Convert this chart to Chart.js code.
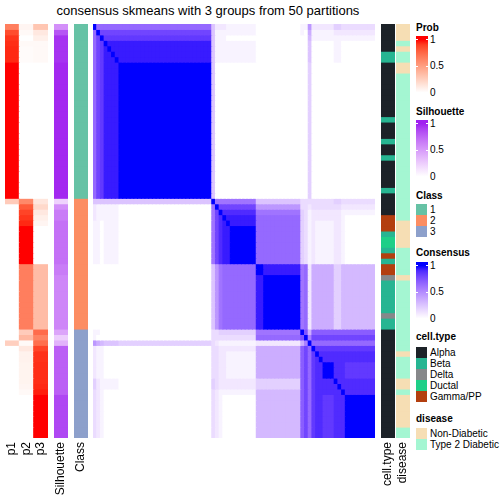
<!DOCTYPE html>
<html>
<head>
<meta charset="utf-8">
<title>consensus skmeans</title>
<script src="https://cdn.jsdelivr.net/npm/chart.js@4.4.1/dist/chart.umd.min.js"></script>
<style>
  html, body { margin: 0; padding: 0; background: #fff; }
  body { position: relative; width: 504px; height: 504px; overflow: hidden;
         font-family: "Liberation Sans", Arial, sans-serif; color: #000; }
  .abs { position: absolute; }
  #title { left: 0; width: 416px; top: 3px; text-align: center; font-size: 13px; line-height: 15px; }
  .lgTitle { font-size: 10px; font-weight: bold; line-height: 12px; white-space: nowrap; }
  .lgText { font-size: 10px; line-height: 12px; white-space: nowrap; }
  canvas { display: block; }
</style>
</head>
<body>
<div id="title" class="abs">consensus skmeans with 3 groups from 50 partitions</div>
<div class="abs" style="left:5px;top:24px"><canvas id="probChart" width="43" height="476"></canvas></div>
<div class="abs" style="left:54px;top:24px"><canvas id="silChart" width="14" height="476"></canvas></div>
<div class="abs" style="left:74px;top:24px"><canvas id="classChart" width="14" height="476"></canvas></div>
<div class="abs" style="left:93px;top:24px"><canvas id="heatChart" width="282" height="414"></canvas></div>
<div class="abs" style="left:381px;top:24px"><canvas id="cellChart" width="14" height="476"></canvas></div>
<div class="abs" style="left:396px;top:24px"><canvas id="diseaseChart" width="14" height="476"></canvas></div>

<script>
// ---- data (76 samples, in plotted order) ----
const p1 = [
  0.65, 0.85, 0.92, 0.94, 0.95, 0.95, 0.95,
  1, 1, 1, 1, 1, 1, 1, 1, 1, 1, 1, 1, 1, 1, 1, 1, 1, 1, 1, 1, 1, 1, 1, 1, 1,
  0.27, 0, 0, 0, 0, 0, 0, 0, 0, 0, 0, 0,
  0, 0, 0, 0, 0, 0, 0, 0, 0, 0, 0, 0,
  0, 0, 0.25, 0, 0, 0, 0, 0, 0, 0, 0, 0, 0, 0, 0, 0, 0, 0, 0, 0
]
const p2 = [
  0.05, 0.03, 0, 0.03, 0.02, 0.02, 0.02,
  0, 0, 0, 0, 0, 0, 0, 0, 0, 0, 0, 0, 0, 0, 0, 0, 0, 0, 0, 0, 0, 0, 0, 0, 0,
  0.6, 0.8, 0.88, 0.92, 0.95, 1, 1, 1, 1, 1, 1, 1,
  0.65, 0.65, 0.65, 0.65, 0.65, 0.65, 0.65, 0.65, 0.65, 0.65, 0.65, 0.65,
  0.27, 0.37, 0.03, 0.12, 0.07, 0.07, 0.06, 0.06, 0.06, 0.06, 0.05, 0.03, 0, 0, 0, 0, 0, 0, 0, 0
]
const p3 = [
  0.3, 0.12, 0.08, 0.03, 0.03, 0.03, 0.03,
  0, 0, 0, 0, 0, 0, 0, 0, 0, 0, 0, 0, 0, 0, 0, 0, 0, 0, 0, 0, 0, 0, 0, 0, 0,
  0.13, 0.2, 0.12, 0.08, 0.05, 0, 0, 0, 0, 0, 0, 0,
  0.35, 0.35, 0.35, 0.35, 0.35, 0.35, 0.35, 0.35, 0.35, 0.35, 0.35, 0.35,
  0.73, 0.63, 0.72, 0.88, 0.93, 0.93, 0.94, 0.94, 0.94, 0.94, 0.95, 0.97, 1, 1, 1, 1, 1, 1, 1, 1
]
const silhouette = [
  0.55, 0.82, 0.95, 0.95, 0.95, 0.95, 0.95,
  0.98, 0.98, 0.98, 0.98, 0.98, 0.98, 0.98, 0.98, 0.98, 0.98, 0.98, 0.98, 0.98,
  0.98, 0.98, 0.98, 0.98, 0.98, 0.98, 0.98, 0.98, 0.98, 0.98, 0.98, 0.98,
  0.22, 0.55, 0.65, 0.65, 0.7, 0.7, 0.7, 0.7, 0.7, 0.7, 0.7, 0.7,
  0.65, 0.65, 0.6, 0.6, 0.6, 0.6, 0.6, 0.6, 0.6, 0.6, 0.6, 0.6,
  0.45, 0.25, 0.38, 0.78, 0.78, 0.78, 0.78, 0.78, 0.78, 0.78, 0.78, 0.78,
  0.88, 0.88, 0.88, 0.88, 0.88, 0.88, 0.88, 0.88
]
const classes = [
  1, 1, 1, 1, 1, 1, 1, 1, 1, 1, 1, 1, 1, 1, 1, 1, 1, 1, 1, 1, 1, 1, 1, 1, 1, 1, 1, 1, 1, 1, 1, 1,
  2, 2, 2, 2, 2, 2, 2, 2, 2, 2, 2, 2, 2, 2, 2, 2, 2, 2, 2, 2, 2, 2, 2, 2,
  3, 3, 3, 3, 3, 3, 3, 3, 3, 3, 3, 3, 3, 3, 3, 3, 3, 3, 3, 3
]
// A Alpha, B Beta, D Delta, U Ductal, G Gamma/PP
const cellTypeCodes = 'AAAAA BB AAAAAAAAAA B AAA B AA B AAAAA B AAAA GGG B UU B G B GG D BBBBBB D BB AAAAAAAAAA AAAAAAAAAA'
// N Non-Diabetic, T Type 2 Diabetic
const diseaseCodes = 'NNN T N TT NN TTTTT TTTTT TTTTT TTTTT TTTTT TT NNNNN TTTTT N TTTTT TTTTT TTT N TTTT NN T NNNNNN TT'

// consensus matrix, one string per row, value = index in levels / 20
const levels = '0123456789abcdefghijk'
const consensus = [
  'k d d dddd ddddd ddddd ddddd ddddd ddddd 5 2 2 2 1 1111111 00 00000 00000 1 1 9 2 22 222 44 3 3333 3333',
  'd k g gggg ggggg ggggg ggggg ggggg ggggg 5 1 1 1 1 1111111 00 00000 00000 1 0 7 1 11 111 22 2 2222 2222',
  'd g k hhhh hhhhh hhhhh hhhhh hhhhh hhhhh 5 1 1 1 0 0000000 00 00000 00000 0 0 6 1 11 111 11 1 1111 1111',
  'd g h kjjj jjjjj jjjjj jjjjj jjjjj jjjjj 5 1 1 1 1 1111111 00 00000 00000 0 0 5 0 00 000 11 0 0000 0000',
  'd g h jkjj jjjjj jjjjj jjjjj jjjjj jjjjj 5 1 1 1 1 1111111 00 00000 00000 0 0 5 0 00 000 11 0 0000 0000',
  'd g h jjkj jjjjj jjjjj jjjjj jjjjj jjjjj 5 1 1 1 1 1111111 00 00000 00000 0 0 5 0 00 000 11 0 0000 0000',
  'd g h jjjk jjjjj jjjjj jjjjj jjjjj jjjjj 5 1 1 1 1 1111111 00 00000 00000 0 0 5 0 00 000 11 0 0000 0000',
  'd g h jjjj kkkkk kkkkk kkkkk kkkkk kkkkk 5 0 0 0 0 0000000 00 00000 00000 0 0 4 0 00 000 00 0 0000 0000',
  'd g h jjjj kkkkk kkkkk kkkkk kkkkk kkkkk 5 0 0 0 0 0000000 00 00000 00000 0 0 4 0 00 000 00 0 0000 0000',
  'd g h jjjj kkkkk kkkkk kkkkk kkkkk kkkkk 5 0 0 0 0 0000000 00 00000 00000 0 0 4 0 00 000 00 0 0000 0000',
  'd g h jjjj kkkkk kkkkk kkkkk kkkkk kkkkk 5 0 0 0 0 0000000 00 00000 00000 0 0 4 0 00 000 00 0 0000 0000',
  'd g h jjjj kkkkk kkkkk kkkkk kkkkk kkkkk 5 0 0 0 0 0000000 00 00000 00000 0 0 4 0 00 000 00 0 0000 0000',
  'd g h jjjj kkkkk kkkkk kkkkk kkkkk kkkkk 5 0 0 0 0 0000000 00 00000 00000 0 0 4 0 00 000 00 0 0000 0000',
  'd g h jjjj kkkkk kkkkk kkkkk kkkkk kkkkk 5 0 0 0 0 0000000 00 00000 00000 0 0 4 0 00 000 00 0 0000 0000',
  'd g h jjjj kkkkk kkkkk kkkkk kkkkk kkkkk 5 0 0 0 0 0000000 00 00000 00000 0 0 4 0 00 000 00 0 0000 0000',
  'd g h jjjj kkkkk kkkkk kkkkk kkkkk kkkkk 5 0 0 0 0 0000000 00 00000 00000 0 0 4 0 00 000 00 0 0000 0000',
  'd g h jjjj kkkkk kkkkk kkkkk kkkkk kkkkk 5 0 0 0 0 0000000 00 00000 00000 0 0 4 0 00 000 00 0 0000 0000',
  'd g h jjjj kkkkk kkkkk kkkkk kkkkk kkkkk 5 0 0 0 0 0000000 00 00000 00000 0 0 4 0 00 000 00 0 0000 0000',
  'd g h jjjj kkkkk kkkkk kkkkk kkkkk kkkkk 5 0 0 0 0 0000000 00 00000 00000 0 0 4 0 00 000 00 0 0000 0000',
  'd g h jjjj kkkkk kkkkk kkkkk kkkkk kkkkk 5 0 0 0 0 0000000 00 00000 00000 0 0 4 0 00 000 00 0 0000 0000',
  'd g h jjjj kkkkk kkkkk kkkkk kkkkk kkkkk 5 0 0 0 0 0000000 00 00000 00000 0 0 4 0 00 000 00 0 0000 0000',
  'd g h jjjj kkkkk kkkkk kkkkk kkkkk kkkkk 5 0 0 0 0 0000000 00 00000 00000 0 0 4 0 00 000 00 0 0000 0000',
  'd g h jjjj kkkkk kkkkk kkkkk kkkkk kkkkk 5 0 0 0 0 0000000 00 00000 00000 0 0 4 0 00 000 00 0 0000 0000',
  'd g h jjjj kkkkk kkkkk kkkkk kkkkk kkkkk 5 0 0 0 0 0000000 00 00000 00000 0 0 4 0 00 000 00 0 0000 0000',
  'd g h jjjj kkkkk kkkkk kkkkk kkkkk kkkkk 5 0 0 0 0 0000000 00 00000 00000 0 0 4 0 00 000 00 0 0000 0000',
  'd g h jjjj kkkkk kkkkk kkkkk kkkkk kkkkk 5 0 0 0 0 0000000 00 00000 00000 0 0 4 0 00 000 00 0 0000 0000',
  'd g h jjjj kkkkk kkkkk kkkkk kkkkk kkkkk 5 0 0 0 0 0000000 00 00000 00000 0 0 4 0 00 000 00 0 0000 0000',
  'd g h jjjj kkkkk kkkkk kkkkk kkkkk kkkkk 5 0 0 0 0 0000000 00 00000 00000 0 0 4 0 00 000 00 0 0000 0000',
  'd g h jjjj kkkkk kkkkk kkkkk kkkkk kkkkk 5 0 0 0 0 0000000 00 00000 00000 0 0 4 0 00 000 00 0 0000 0000',
  'd g h jjjj kkkkk kkkkk kkkkk kkkkk kkkkk 5 0 0 0 0 0000000 00 00000 00000 0 0 4 0 00 000 00 0 0000 0000',
  'd g h jjjj kkkkk kkkkk kkkkk kkkkk kkkkk 5 0 0 0 0 0000000 00 00000 00000 0 0 4 0 00 000 00 0 0000 0000',
  'd g h jjjj kkkkk kkkkk kkkkk kkkkk kkkkk 5 0 0 0 0 0000000 00 00000 00000 0 0 4 0 00 000 00 0 0000 0000',
  '5 5 5 5555 55555 55555 55555 55555 55555 k c c c c ccccccc 55 55555 55555 3 3 3 3 33 333 44 3 3333 3333',
  '2 1 1 1111 00000 00000 00000 00000 00000 c k g g g ggggggg 99 99999 99999 3 3 2 3 33 333 33 2 2222 2222',
  '2 1 1 1111 00000 00000 00000 00000 00000 c g k i i iiiiiii cc ccccc ccccc 4 3 1 2 22 222 22 1 1111 1111',
  '2 1 1 1111 00000 00000 00000 00000 00000 c g i k j jjjjjjj dd ddddd ddddd 4 3 1 2 22 222 22 1 0000 0000',
  '1 1 0 1111 00000 00000 00000 00000 00000 c g i j k jjjjjjj dd ddddd ddddd 4 3 1 2 11 111 22 1 0000 0000',
  '1 1 0 1111 00000 00000 00000 00000 00000 c g i j j kkkkkkk dd ddddd ddddd 4 3 1 2 11 111 22 1 0000 0000',
  '1 1 0 1111 00000 00000 00000 00000 00000 c g i j j kkkkkkk dd ddddd ddddd 4 3 1 2 11 111 22 1 0000 0000',
  '1 1 0 1111 00000 00000 00000 00000 00000 c g i j j kkkkkkk dd ddddd ddddd 4 3 1 2 11 111 22 1 0000 0000',
  '1 1 0 1111 00000 00000 00000 00000 00000 c g i j j kkkkkkk dd ddddd ddddd 4 3 1 2 11 111 22 1 0000 0000',
  '1 1 0 1111 00000 00000 00000 00000 00000 c g i j j kkkkkkk dd ddddd ddddd 4 3 1 2 11 111 22 1 0000 0000',
  '1 1 0 1111 00000 00000 00000 00000 00000 c g i j j kkkkkkk dd ddddd ddddd 4 3 1 2 11 111 22 1 0000 0000',
  '1 1 0 1111 00000 00000 00000 00000 00000 c g i j j kkkkkkk dd ddddd ddddd 4 3 1 2 11 111 22 1 0000 0000',
  '0 0 0 0000 00000 00000 00000 00000 00000 5 9 c d d ddddddd kk jjjjj jjjjj c d 2 7 77 777 44 6 6666 6666',
  '0 0 0 0000 00000 00000 00000 00000 00000 5 9 c d d ddddddd kk jjjjj jjjjj c d 2 7 77 777 44 6 6666 6666',
  '0 0 0 0000 00000 00000 00000 00000 00000 5 9 c d d ddddddd jj kkkkk kkkkk c d 2 7 77 777 44 6 6666 6666',
  '0 0 0 0000 00000 00000 00000 00000 00000 5 9 c d d ddddddd jj kkkkk kkkkk c d 2 7 77 777 44 6 6666 6666',
  '0 0 0 0000 00000 00000 00000 00000 00000 5 9 c d d ddddddd jj kkkkk kkkkk c d 2 7 77 777 44 6 6666 6666',
  '0 0 0 0000 00000 00000 00000 00000 00000 5 9 c d d ddddddd jj kkkkk kkkkk c d 2 7 77 777 44 6 6666 6666',
  '0 0 0 0000 00000 00000 00000 00000 00000 5 9 c d d ddddddd jj kkkkk kkkkk c d 2 7 77 777 44 6 6666 6666',
  '0 0 0 0000 00000 00000 00000 00000 00000 5 9 c d d ddddddd jj kkkkk kkkkk c d 2 7 77 777 44 6 6666 6666',
  '0 0 0 0000 00000 00000 00000 00000 00000 5 9 c d d ddddddd jj kkkkk kkkkk c d 2 7 77 777 44 6 6666 6666',
  '0 0 0 0000 00000 00000 00000 00000 00000 5 9 c d d ddddddd jj kkkkk kkkkk c d 2 7 77 777 44 6 6666 6666',
  '0 0 0 0000 00000 00000 00000 00000 00000 5 9 c d d ddddddd jj kkkkk kkkkk c d 2 7 77 777 44 6 6666 6666',
  '0 0 0 0000 00000 00000 00000 00000 00000 5 9 c d d ddddddd jj kkkkk kkkkk c d 2 7 77 777 44 6 6666 6666',
  '1 1 0 0000 00000 00000 00000 00000 00000 3 3 4 4 4 4444444 cc ccccc ccccc k f 7 e ee eee ee e eeee eeee',
  '1 0 0 0000 00000 00000 00000 00000 00000 3 3 3 3 3 3333333 dd ddddd ddddd f k b g gg ggg gg g gggg gggg',
  '9 7 6 5555 44444 44444 44444 44444 44444 3 2 1 1 1 1111111 22 22222 22222 7 b k d dd ddd dd d dddd dddd',
  '2 1 1 0000 00000 00000 00000 00000 00000 3 3 2 2 2 2222222 77 77777 77777 e g d k hh hhh hh h hhhh hhhh',
  '2 1 1 0000 00000 00000 00000 00000 00000 3 3 2 2 1 1111111 77 77777 77777 e g d h ki iii ii i iiii iiii',
  '2 1 1 0000 00000 00000 00000 00000 00000 3 3 2 2 1 1111111 77 77777 77777 e g d h ik iii ii i iiii iiii',
  '2 1 1 0000 00000 00000 00000 00000 00000 3 3 2 2 1 1111111 77 77777 77777 e g d h ii kkk ii i hhhh hhhh',
  '2 1 1 0000 00000 00000 00000 00000 00000 3 3 2 2 1 1111111 77 77777 77777 e g d h ii kkk ii i hhhh hhhh',
  '2 1 1 0000 00000 00000 00000 00000 00000 3 3 2 2 1 1111111 77 77777 77777 e g d h ii kkk ii i hhhh hhhh',
  '4 2 1 1111 00000 00000 00000 00000 00000 4 3 2 2 2 2222222 44 44444 44444 e g d h ii iii ki i iiii iiii',
  '4 2 1 1111 00000 00000 00000 00000 00000 4 3 2 2 2 2222222 44 44444 44444 e g d h ii iii ik i iiii iiii',
  '3 2 1 0000 00000 00000 00000 00000 00000 3 2 1 1 1 1111111 66 66666 66666 e g d h ii iii ii k iiii iiii',
  '3 2 1 0000 00000 00000 00000 00000 00000 3 2 1 0 0 0000000 66 66666 66666 e g d h ii hhh ii i kkkk kkkk',
  '3 2 1 0000 00000 00000 00000 00000 00000 3 2 1 0 0 0000000 66 66666 66666 e g d h ii hhh ii i kkkk kkkk',
  '3 2 1 0000 00000 00000 00000 00000 00000 3 2 1 0 0 0000000 66 66666 66666 e g d h ii hhh ii i kkkk kkkk',
  '3 2 1 0000 00000 00000 00000 00000 00000 3 2 1 0 0 0000000 66 66666 66666 e g d h ii hhh ii i kkkk kkkk',
  '3 2 1 0000 00000 00000 00000 00000 00000 3 2 1 0 0 0000000 66 66666 66666 e g d h ii hhh ii i kkkk kkkk',
  '3 2 1 0000 00000 00000 00000 00000 00000 3 2 1 0 0 0000000 66 66666 66666 e g d h ii hhh ii i kkkk kkkk',
  '3 2 1 0000 00000 00000 00000 00000 00000 3 2 1 0 0 0000000 66 66666 66666 e g d h ii hhh ii i kkkk kkkk',
  '3 2 1 0000 00000 00000 00000 00000 00000 3 2 1 0 0 0000000 66 66666 66666 e g d h ii hhh ii i kkkk kkkk'
]

const classNames = ['1', '2', '3']
const classColors = ['#66C2A5', '#FC8D62', '#8DA0CB']
const cellTypeNames = ['Alpha', 'Beta', 'Delta', 'Ductal', 'Gamma/PP']
const cellTypeKeys = ['A', 'B', 'D', 'U', 'G']
const cellTypeColors = ['#1C2228', '#27B592', '#86888A', '#1ECF88', '#B33F0F']
const diseaseNames = ['Non-Diabetic', 'Type 2 Diabetic']
const diseaseKeys = ['N', 'T']
const diseaseColors = ['#F6DEB4', '#A4F6D2']

// ---- colour ramps: white -> colour, interpolated in Lab like colorRamp2 ----
const toLin = c => { c /= 255; return c <= 0.04045 ? c / 12.92 : Math.pow((c + 0.055) / 1.055, 2.4) }
const fromLin = c => {
  c = c <= 0.0031308 ? 12.92 * c : 1.055 * Math.pow(Math.max(c, 0), 1 / 2.4) - 0.055
  return Math.round(Math.min(1, Math.max(0, c)) * 255)
}
const hexRgb = h => [1, 3, 5].map(k => parseInt(h.slice(k, k + 2), 16))
function rgbToLab(rgb) {
  const [r, g, b] = rgb.map(toLin)
  const f = t => t > 0.008856 ? Math.cbrt(t) : 7.787 * t + 16 / 116
  const x = f((0.4124 * r + 0.3576 * g + 0.1805 * b) / 0.95047)
  const y = f(0.2126 * r + 0.7152 * g + 0.0722 * b)
  const z = f((0.0193 * r + 0.1192 * g + 0.9505 * b) / 1.08883)
  return [116 * y - 16, 500 * (x - y), 200 * (y - z)]
}
function labToRgb([L, a, bb]) {
  const fy = (L + 16) / 116, fx = fy + a / 500, fz = fy - bb / 200
  const fi = t => t * t * t > 0.008856 ? t * t * t : (t - 16 / 116) / 7.787
  const x = fi(fx) * 0.95047, y = fi(fy), z = fi(fz) * 1.08883
  const r = 3.2406 * x - 1.5372 * y - 0.4986 * z
  const g = -0.9689 * x + 1.8758 * y + 0.0415 * z
  const b = 0.0557 * x - 0.2040 * y + 1.0570 * z
  return `rgb(${fromLin(r)},${fromLin(g)},${fromLin(b)})`
}
function makeRamp(hex) {
  const lo = rgbToLab([255, 255, 255]), hi = rgbToLab(hexRgb(hex))
  return v => {
    v = Math.min(1, Math.max(0, v))
    return labToRgb(lo.map((l, i) => l + (hi[i] - l) * v))
  }
}
const redRamp = makeRamp('#FF0000')
const purpleRamp = makeRamp('#A020F0')
const blueRamp = makeRamp('#0000FF')

// ---- charts ----
Chart.defaults.font.family = '"Liberation Sans", Arial, sans-serif'
Chart.defaults.color = '#000'

const N = p1.length
const rows = consensus.map(r => r.replace(/ /g, ''))
const cellTypes = cellTypeCodes.replace(/ /g, '').split('')
const disease = diseaseCodes.replace(/ /g, '').split('')

function makeStrip(id, labels, colorAt, showLabels) {
  const datasets = []
  for (let i = 0; i < N; i++) {
    datasets.push({
      data: labels.map(() => 1),
      backgroundColor: labels.map((_, j) => colorAt(i, j)),
      borderWidth: 0,
      inflateAmount: 0.5,
      barPercentage: 1,
      categoryPercentage: 1
    })
  }
  const xAxis = {
    stacked: true,
    display: showLabels,
    grid: { display: false, drawTicks: false },
    border: { display: false },
    ticks: { autoSkip: false, minRotation: 90, maxRotation: 90, padding: 4, font: { size: 12 } }
  }
  // labelled strips keep a fixed label band under the cells
  if (showLabels) xAxis.afterFit = s => { s.height = 62; s.paddingLeft = 0; s.paddingRight = 0 }
  return new Chart(document.getElementById(id), {
    type: 'bar',
    data: { labels, datasets },
    options: {
      responsive: false,
      animation: false,
      events: [],
      layout: { padding: 0 },
      plugins: { legend: { display: false }, tooltip: { enabled: false } },
      scales: {
        x: xAxis,
        y: { stacked: true, display: false, min: 0, max: N, reverse: true }
      }
    }
  })
}

makeStrip('probChart', ['p1', 'p2', 'p3'], (i, j) => redRamp([p1, p2, p3][j][i]), true)
makeStrip('silChart', ['Silhouette'], i => purpleRamp(silhouette[i]), true)
makeStrip('classChart', ['Class'], i => classColors[classes[i] - 1], true)
makeStrip('heatChart', rows.map((_, j) => 'S' + (j + 1)),
  (i, j) => blueRamp(levels.indexOf(rows[i][j]) / 20), false)
makeStrip('cellChart', ['cell.type'], i => cellTypeColors[cellTypeKeys.indexOf(cellTypes[i])], true)
makeStrip('diseaseChart', ['disease'], i => diseaseColors[diseaseKeys.indexOf(disease[i])], true)

// ---- legends ----
function put(cls, left, top, text, style) {
  const d = document.createElement('div')
  d.className = 'abs ' + cls
  d.style.left = left + 'px'
  d.style.top = top + 'px'
  if (text != null) d.textContent = text
  if (style) Object.assign(d.style, style)
  document.body.appendChild(d)
  return d
}

function gradientLegend(title, ramp, titleY, barTop) {
  put('lgTitle', 416, titleY - 6, title)
  const h = 60, b0 = 3.5, b1 = 56.5
  const stops = []
  for (let k = 0; k <= 10; k++) {
    stops.push(`${ramp(1 - k / 10)} ${((b0 + (b1 - b0) * k / 10) / h * 100).toFixed(1)}%`)
  }
  put('', 416, barTop, null, { width: '12px', height: h + 'px', background: `linear-gradient(to bottom, ${stops.join(', ')})` })
  ;[['1', b0], ['0.5', (b0 + b1) / 2], ['0', b1]].forEach(([lab, y]) => {
    put('', 416, barTop + y - 0.5, null, { width: '2px', height: '1px', background: '#fff' })
    put('', 426, barTop + y - 0.5, null, { width: '2px', height: '1px', background: '#fff' })
    put('lgText', 430, barTop + y - 6, lab)
  })
}

function discreteLegend(title, names, colors, titleY, top) {
  put('lgTitle', 416, titleY - 6, title)
  names.forEach((name, k) => {
    put('', 416, top + k * 11, null, { width: '11px', height: '11px', background: colors[k] })
    put('lgText', 430, top + k * 11 - 0.5, name)
  })
}

gradientLegend('Prob', redRamp, 28, 36)
gradientLegend('Silhouette', purpleRamp, 112, 120)
discreteLegend('Class', classNames, classColors, 196, 204)
gradientLegend('Consensus', blueRamp, 253, 262)
discreteLegend('cell.type', cellTypeNames, cellTypeColors, 337, 347)
discreteLegend('disease', diseaseNames, diseaseColors, 419, 428)
</script>
</body>
</html>
